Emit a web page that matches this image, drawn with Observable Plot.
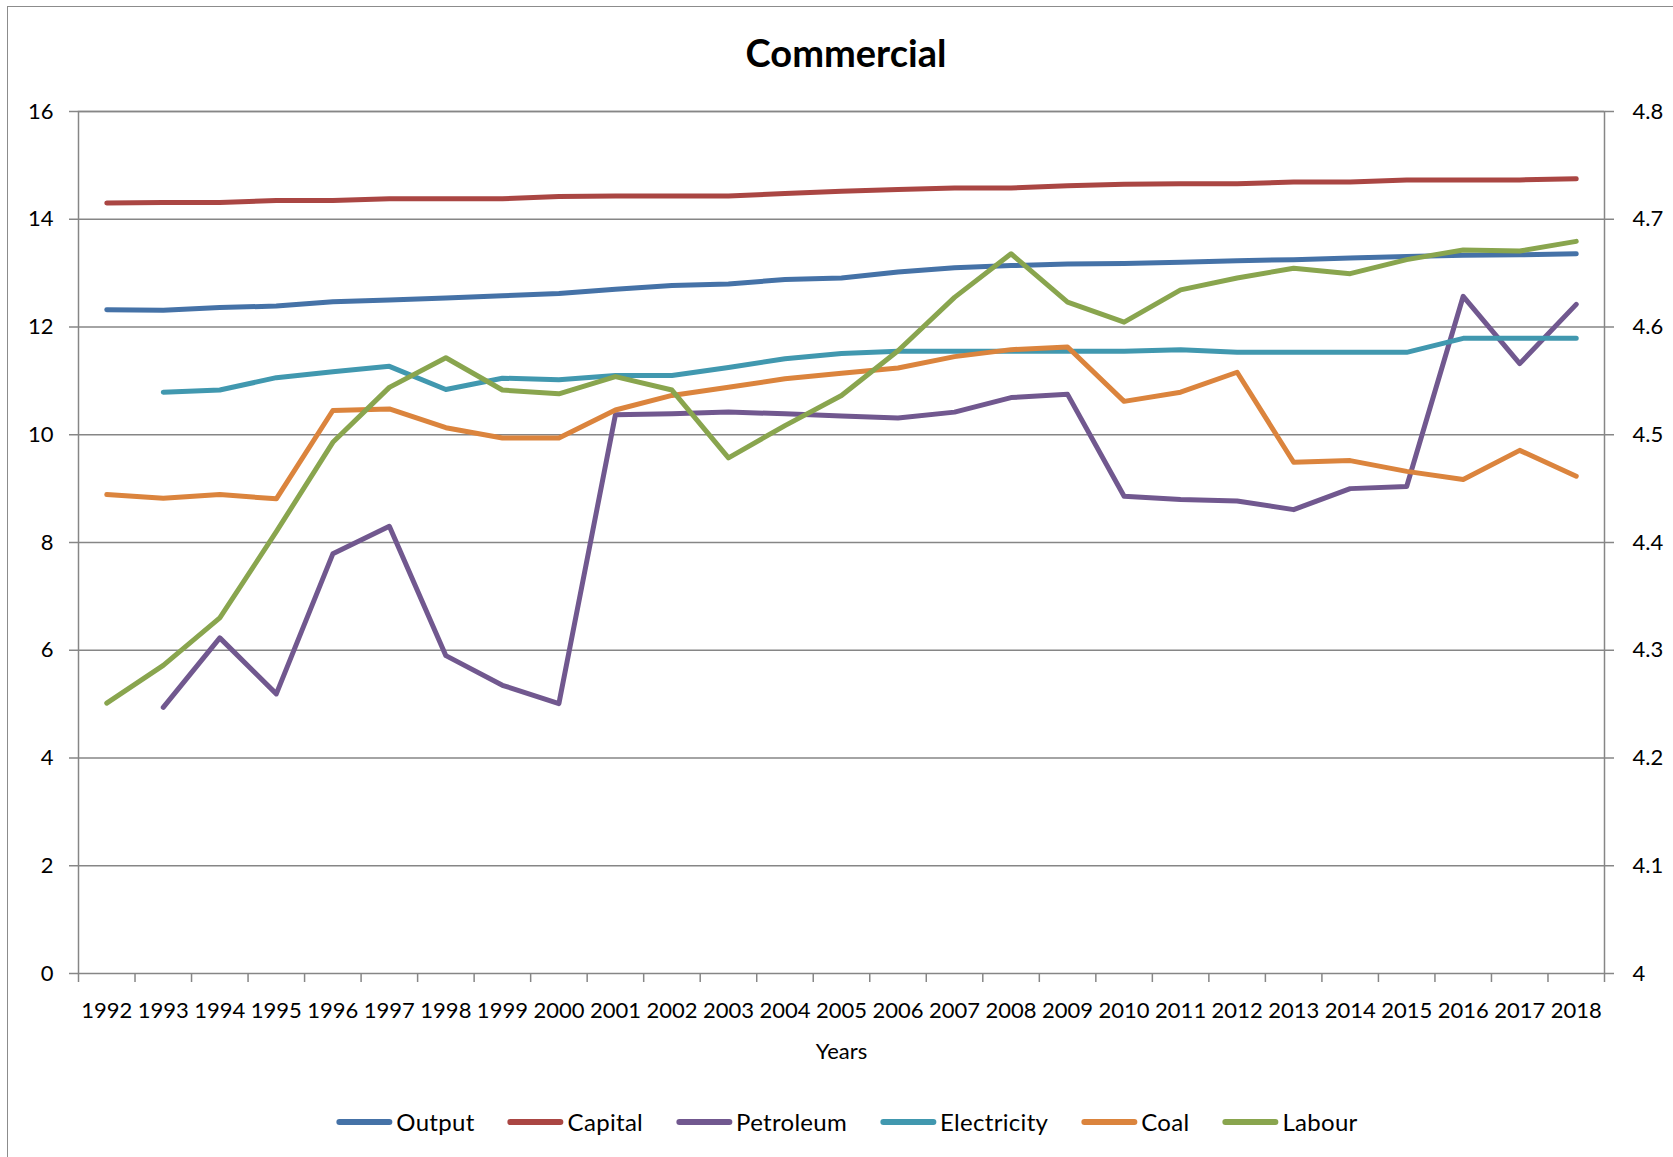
<!DOCTYPE html>
<html>
<head>
<meta charset="utf-8">
<script src="https://cdn.jsdelivr.net/npm/d3@7"></script>
<script src="https://cdn.jsdelivr.net/npm/@observablehq/plot@0.6"></script>
<style>
  body { margin: 0; background: #fff; font-family: Lato, "Open Sans", sans-serif; }
  #chart { position: relative; width: 1673px; height: 1157px; overflow: hidden; background: #fff; }
  #border { position: absolute; left: 7px; top: 6px; width: 1700px; height: 1200px;
            border-left: 1.5px solid #8c8c8c; border-top: 1.5px solid #8c8c8c; }
  #title { position: absolute; left: 846px; top: 33px; transform: translateX(-50%);
           font-size: 38px; line-height: 38px; font-weight: bold; color: #000; white-space: nowrap; }
  #plot { position: absolute; left: 0; top: 80px; }
  #legend { position: absolute; left: 847px; top: 1108px; transform: translateX(-50%);
            display: flex; align-items: center; gap: 33px; white-space: nowrap;
            font-size: 24px; line-height: 28px; color: #000; letter-spacing: 0.3px; }
  .item { display: flex; align-items: center; gap: 4px; }
  .swatch { width: 56px; height: 6px; border-radius: 3px; }
</style>
</head>
<body>
<div id="chart">
  <div id="border"></div>
  <div id="title">Commercial</div>
  <div id="plot"></div>
  <div id="legend"></div>
</div>
<script>
// Years on the category axis
const years = [1992, 1993, 1994, 1995, 1996, 1997, 1998, 1999, 2000, 2001, 2002, 2003, 2004, 2005,
               2006, 2007, 2008, 2009, 2010, 2011, 2012, 2013, 2014, 2015, 2016, 2017, 2018];

// Series values (left axis units)
const output = [12.32, 12.31, 12.36, 12.39, 12.47, 12.50, 12.54, 12.58, 12.62, 12.70, 12.77, 12.80, 12.88, 12.91,
                13.02, 13.10, 13.14, 13.17, 13.18, 13.20, 13.23, 13.25, 13.28, 13.31, 13.33, 13.34, 13.36];
const capital = [14.30, 14.31, 14.31, 14.35, 14.35, 14.38, 14.38, 14.38, 14.42, 14.43, 14.43, 14.43, 14.48, 14.52,
                 14.55, 14.58, 14.58, 14.62, 14.65, 14.66, 14.66, 14.69, 14.69, 14.73, 14.73, 14.73, 14.75];
const petroleum = [null, 4.94, 6.23, 5.19, 7.79, 8.30, 5.90, 5.35, 5.01, 10.37, 10.39, 10.42, 10.39, 10.35,
                   10.31, 10.42, 10.69, 10.75, 8.86, 8.80, 8.77, 8.61, 9.00, 9.04, 12.57, 11.32, 12.42];
const electricity = [null, 10.79, 10.83, 11.06, 11.17, 11.27, 10.84, 11.05, 11.02, 11.10, 11.10, 11.25, 11.41, 11.51,
                     11.55, 11.55, 11.55, 11.55, 11.55, 11.58, 11.53, 11.53, 11.53, 11.53, 11.79, 11.79, 11.79];
const coal = [8.89, 8.82, 8.89, 8.81, 10.45, 10.48, 10.13, 9.94, 9.94, 10.46, 10.73, 10.88, 11.04, 11.14,
              11.24, 11.45, 11.58, 11.63, 10.62, 10.79, 11.16, 9.49, 9.52, 9.32, 9.17, 9.71, 9.23];
const labour = [5.02, 5.72, 6.60, 8.20, 9.86, 10.88, 11.43, 10.83, 10.76, 11.08, 10.83, 9.57, 10.17, 10.73,
                11.56, 12.55, 13.36, 12.46, 12.09, 12.69, 12.91, 13.09, 12.99, 13.25, 13.43, 13.41, 13.59];

const seriesNames = ["Output", "Capital", "Petroleum", "Electricity", "Coal", "Labour"];
const seriesValues = [output, capital, petroleum, electricity, coal, labour];
const seriesColors = ["#4572A7", "#AA4643", "#71588F", "#4198AF", "#DB843D", "#89A54E"];

// Axis ticks
const leftTicks = [0, 2, 4, 6, 8, 10, 12, 14, 16];
const rightTicks = [4, 4.1, 4.2, 4.3, 4.4, 4.5, 4.6, 4.7, 4.8];

// Secondary axis shares the plot height with the primary one
const leftDomain = [0, 16];
const rightDomain = [4, 4.8];
const toLeft = d3.scaleLinear(rightDomain, leftDomain);

// Tidy rows for the line mark
const rows = seriesNames.flatMap((name, s) =>
  years.map((year, i) => ({series: name, year, value: seriesValues[s][i]}))
       .filter(d => d.value != null)
);

// Category boundaries for the tick marks between years
const boundaries = years.map(y => y - 0.5).concat([years[years.length - 1] + 0.5]);

const gray = "#868686";

const chart = Plot.plot({
  width: 1673,
  height: 995,
  marginTop: 31,
  marginBottom: 102,
  marginLeft: 78,
  marginRight: 69,
  style: {fontFamily: "Lato, 'Open Sans', sans-serif", fontSize: "22px", color: "#000", background: "transparent"},
  x: {type: "linear", domain: [boundaries[0], boundaries[boundaries.length - 1]]},
  y: {domain: leftDomain},
  color: {domain: seriesNames, range: seriesColors},
  marks: [
    Plot.gridY(leftTicks.filter(t => t > leftDomain[0]), {stroke: gray, strokeOpacity: 1, strokeWidth: 1.5}),
    Plot.frame({stroke: gray, strokeWidth: 1.5}),
    Plot.axisY(leftTicks, {anchor: "left", tickSize: 9, tickPadding: 16, stroke: gray, strokeWidth: 1.5,
                           fill: "#000", label: null, tickFormat: d => String(d)}),
    Plot.axisY(rightTicks.map(toLeft), {anchor: "right", tickSize: 9, tickPadding: 19, stroke: gray, strokeWidth: 1.5,
                                        fill: "#000", label: null,
                                        tickFormat: v => String(+toLeft.invert(v).toFixed(1))}),
    Plot.axisX(boundaries, {anchor: "bottom", tickSize: 9, stroke: gray, strokeWidth: 1.5,
                            tickFormat: () => "", label: null}),
    Plot.axisX(years, {anchor: "bottom", tickSize: 0, tickPadding: 29, fill: "#000",
                       tickFormat: d => String(d),
                       label: "Years", labelAnchor: "center", labelArrow: "none", labelOffset: 85}),
    Plot.line(rows, {x: "year", y: "value", z: "series", stroke: "series",
                     strokeWidth: 5, strokeLinejoin: "round", strokeLinecap: "round"})
  ]
});
document.getElementById("plot").appendChild(chart);

// Legend below the plot
const legend = document.getElementById("legend");
seriesNames.forEach((name, i) => {
  const item = document.createElement("div");
  item.className = "item";
  const sw = document.createElement("div");
  sw.className = "swatch";
  sw.style.background = seriesColors[i];
  const label = document.createElement("span");
  label.textContent = name;
  item.appendChild(sw);
  item.appendChild(label);
  legend.appendChild(item);
});
</script>
</body>
</html>
